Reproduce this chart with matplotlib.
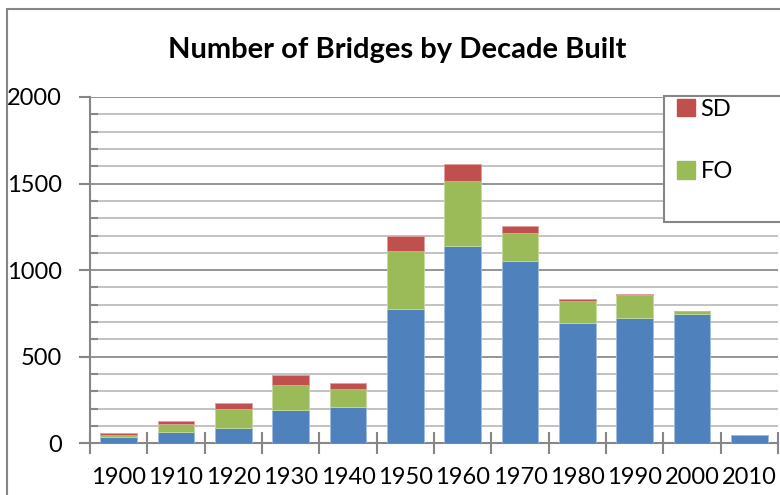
import matplotlib
matplotlib.use("Agg")
import matplotlib.pyplot as plt
from matplotlib.patches import Rectangle, Patch
from matplotlib.ticker import MultipleLocator, FixedLocator
import numpy as np

# data
decades = ['1900', '1910', '1920', '1930', '1940', '1950',
           '1960', '1970', '1980', '1990', '2000', '2010']
ok = [36, 67, 90, 194, 210, 778, 1142, 1050, 692, 726, 744, 46]
fo = [14, 45, 106, 143, 104, 333, 374, 166, 127, 129, 21, 0]
sd = [8, 17, 35, 60, 35, 85, 98, 40, 15, 5, 0, 0]

blue = '#4F81BD'
green = '#9BBB59'
red = '#C0504D'
gray = '#868686'

plt.rcParams['font.family'] = ['Lato', 'DejaVu Sans']

W, H = 780, 495
fig = plt.figure(figsize=(W / 100, H / 100), dpi=100)

# outer chart border (runs off the right and bottom edges)
fig.patches.append(Rectangle((7 / W, -0.1), 1.2, (H - 9) / H + 0.1,
                             transform=fig.transFigure, fill=False,
                             edgecolor=gray, lw=1.5))

ax = fig.add_axes([90 / W, (H - 443.3) / H, 688 / W, 346.3 / H])

x = np.arange(len(decades))
ok_a = np.array(ok)
fo_a = np.array(fo)
sd_a = np.array(sd)
w = 0.64
ax.bar(x, ok_a, w, color=blue, edgecolor='#9fbde0', lw=0.6, zorder=3)
ax.bar(x, fo_a, w, bottom=ok_a, color=green, edgecolor='#c5da9f', lw=0.6, zorder=3)
ax.bar(x, sd_a, w, bottom=ok_a + fo_a, color=red, edgecolor='#e0a09e', lw=0.6, zorder=3)

ax.set_xlim(-0.5, len(decades) - 0.5)
ax.set_ylim(0, 2000)

# gridlines
for v in range(100, 2001, 100):
    c = '#8c8c8c' if v % 500 == 0 else '#bdbdbd'
    ax.axhline(v, color=c, lw=1.3, zorder=1)

for s in ['top', 'right']:
    ax.spines[s].set_visible(False)
for s in ['left', 'bottom']:
    ax.spines[s].set_color(gray)
    ax.spines[s].set_linewidth(1.5)

ax.yaxis.set_major_locator(MultipleLocator(500))
ax.yaxis.set_minor_locator(MultipleLocator(100))
ax.tick_params(axis='y', which='major', direction='out', length=8, width=1.5,
               color=gray, labelsize=17, pad=12)
ax.tick_params(axis='y', which='minor', direction='in', length=6, width=1.5,
               color=gray)

ax.xaxis.set_major_locator(FixedLocator(np.arange(-0.5, len(decades), 1.0)))
ax.xaxis.set_minor_locator(FixedLocator(x))
ax.xaxis.set_major_formatter(plt.NullFormatter())
ax.set_xticks(x, decades, minor=True)
ax.tick_params(axis='x', which='major', direction='inout', length=16, width=1.5,
               color=gray)
ax.tick_params(axis='x', which='minor', length=0, labelsize=17, pad=17)

fig.text(397 / W, 1 - 50 / H, 'Number of Bridges by Decade Built',
         ha='center', va='center', fontsize=21, fontweight='bold')

# legend box
fig.patches.append(Rectangle((664 / W, (H - 222) / H), 0.3, 126 / H,
                             transform=fig.transFigure, facecolor='white',
                             edgecolor=gray, lw=1.5, zorder=5))
handles = [Patch(color=red, label='SD'), Patch(color=green, label='FO')]
leg = fig.legend(handles=handles, loc='upper left',
                 bbox_to_anchor=(677 / W, 1 - 99 / H), frameon=False,
                 fontsize=17, handlelength=0.75, handleheight=0.75,
                 handletextpad=0.25, labelspacing=1.75,
                 borderpad=0, borderaxespad=0)
leg.set_zorder(6)

fig.savefig('out.png', dpi=100)
